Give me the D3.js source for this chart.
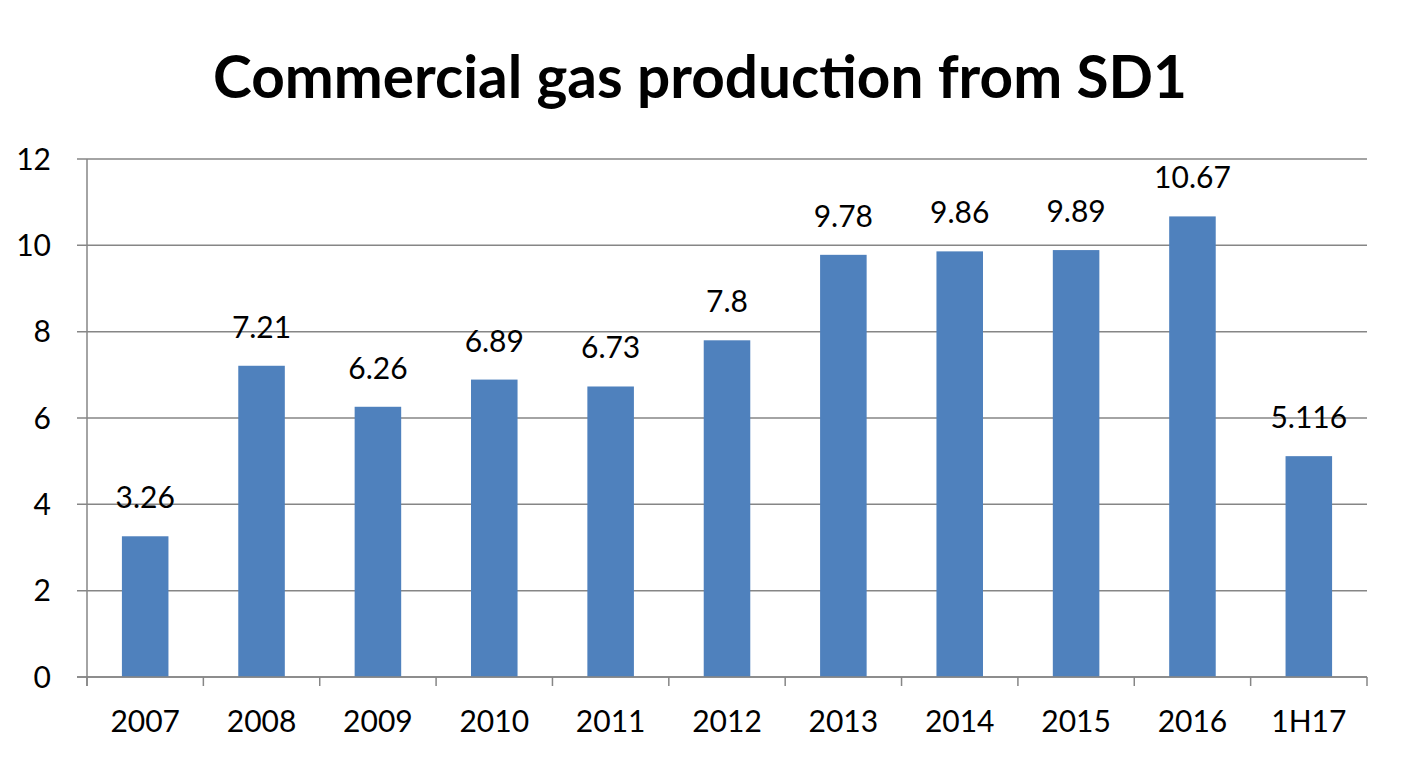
<!DOCTYPE html>
<html><head><meta charset="utf-8">
<script src="https://cdn.jsdelivr.net/npm/d3@7"></script>
<style>body{margin:0;background:#fff}svg{display:block}text{font-family:Lato,"Open Sans",sans-serif}</style>
</head><body><svg id="c" width="1410" height="762"></svg>
<script>
const categories = ["2007","2008","2009","2010","2011","2012","2013","2014","2015","2016","1H17"];
const values = [3.26,7.21,6.26,6.89,6.73,7.8,9.78,9.86,9.89,10.67,5.116];
const labels = ["3.26","7.21","6.26","6.89","6.73","7.8","9.78","9.86","9.89","10.67","5.116"];
const yTicks = [0,2,4,6,8,10,12];
const title = "Commercial gas production from SD1";

(function(){
const svg = d3.select("#c");
const pL = 87, pR = 1367, pT = 159, pB = 677;
const x = d3.scaleBand().domain(categories).range([pL, pR]).paddingInner(0.6).paddingOuter(0.3);
const xb = d3.scaleBand().domain(categories).range([pL, pR]);
const y = d3.scaleLinear().domain([0,12]).range([pB, pT]);

svg.append("g").selectAll("line").data(yTicks).join("line")
  .attr("x1", 77).attr("x2", pR)
  .attr("y1", d=>y(d)).attr("y2", d=>y(d))
  .attr("stroke", "#868686").attr("stroke-width", 1.5);
svg.append("line").attr("x1", pL).attr("x2", pL).attr("y1", pT).attr("y2", pB+9)
  .attr("stroke","#868686").attr("stroke-width",1.5);
const tickXs = categories.map(d=>xb(d)).concat([pR]);
svg.append("g").selectAll("line").data(tickXs).join("line")
  .attr("x1", d=>d).attr("x2", d=>d)
  .attr("y1", pB).attr("y2", pB+9)
  .attr("stroke","#868686").attr("stroke-width",1.5);
svg.append("g").selectAll("text").data(yTicks).join("text")
  .attr("x", 51).attr("y", d=>y(d)).attr("dy","0.36em")
  .attr("text-anchor","end").attr("font-size",30).attr("fill","#000")
  .text(d=>d);
svg.append("g").selectAll("rect").data(values).join("rect")
  .attr("x",(d,i)=>x(categories[i])).attr("width",x.bandwidth())
  .attr("y",d=>y(d)).attr("height",d=>pB-y(d))
  .attr("fill","#4F81BD");
svg.append("line").attr("x1",77).attr("x2",pR).attr("y1",pB).attr("y2",pB)
  .attr("stroke","#868686").attr("stroke-width",1.5);
svg.append("g").selectAll("text").data(values).join("text")
  .attr("x",(d,i)=>xb(categories[i])+xb.bandwidth()/2)
  .attr("y",d=>y(d)-28)
  .attr("text-anchor","middle").attr("font-size",30).attr("fill","#000")
  .text((d,i)=>labels[i]);
svg.append("g").selectAll("text").data(categories).join("text")
  .attr("x",d=>xb(d)+xb.bandwidth()/2).attr("y",732)
  .attr("text-anchor","middle").attr("font-size",30).attr("fill","#000")
  .text(d=>d);
const t = svg.append("text").attr("x",700).attr("y",98).attr("text-anchor","middle")
  .attr("font-size",60).attr("font-weight","bold").attr("fill","#000").text(title);
const w = t.node().getComputedTextLength();
t.attr("font-size", 60*974/w);
})();
</script></body></html>
